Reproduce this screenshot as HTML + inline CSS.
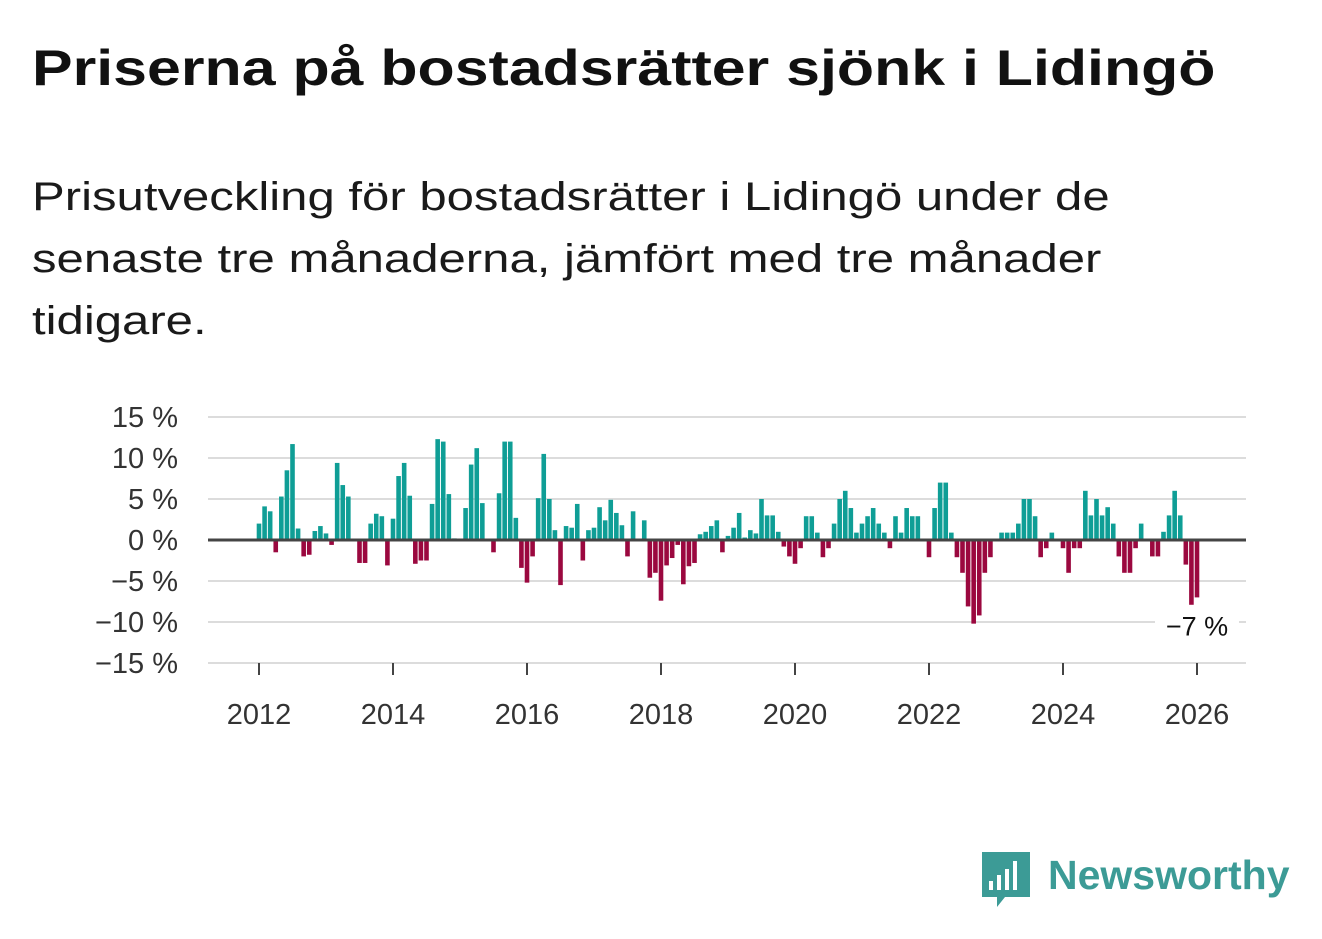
<!DOCTYPE html>
<html><head><meta charset="utf-8">
<style>
body{margin:0;background:#fff;width:1322px;height:939px;overflow:hidden;font-family:"Liberation Sans",sans-serif;color:#111}
h1{position:absolute;left:32px;top:39px;margin:0;font-size:50px;font-weight:bold;white-space:nowrap;transform:scaleX(1.217);transform-origin:0 0}
.sub{position:absolute;left:32px;top:166px;margin:0;font-size:40px;line-height:62px;color:#1a1a1a;white-space:nowrap;transform:scaleX(1.227);transform-origin:0 0}
svg{position:absolute;left:0;top:0}
</style></head><body>
<h1>Priserna på bostadsrätter sjönk i Lidingö</h1>
<p class="sub">Prisutveckling för bostadsrätter i Lidingö under de<br>senaste tre månaderna, jämfört med tre månader<br>tidigare.</p>
<svg id="chart" width="1322" height="939"></svg>
<script>
const values=[
2,4.1,3.5,-1.5,5.3,8.5,11.7,1.4,-2,-1.8,1.1,1.7,
0.8,-0.6,9.4,6.7,5.3,0,-2.8,-2.8,2,3.2,2.9,-3.1,
2.6,7.8,9.4,5.4,-2.9,-2.5,-2.5,4.4,12.3,12,5.6,0.2,
0,3.9,9.2,11.2,4.5,0,-1.5,5.7,12,12,2.7,-3.4,
-5.2,-2,5.1,10.5,5,1.2,-5.5,1.7,1.5,4.4,-2.5,1.2,
1.5,4,2.4,4.9,3.3,1.8,-2,3.5,0,2.4,-4.6,-4,
-7.4,-3.1,-2.2,-0.6,-5.4,-3.2,-2.8,0.7,1,1.7,2.4,-1.5,
0.5,1.5,3.3,0.3,1.2,0.8,5,3,3,1,-0.8,-2,
-2.9,-1,2.9,2.9,0.9,-2.1,-1,2,5,6,3.9,0.9,
2,2.9,3.9,2,0.9,-1,2.9,0.9,3.9,2.9,2.9,0,
-2.1,3.9,7,7,0.9,-2.1,-4,-8.1,-10.2,-9.2,-4,-2.1,
0,0.9,0.9,0.9,2,5,5,2.9,-2.1,-1,0.9,0,
-1,-4,-1,-1,6,3,5,3,4,2,-2,-4,
-4,-1,2,0,-2,-2,1,3,6,3,-3,-7.9,
-7];
const startYear=2012;
const yTicks=[15,10,5,0,-5,-10,-15];
const xTicks=[2012,2014,2016,2018,2020,2022,2024,2026];
const lastLabel="−7 %";
const svg=document.getElementById('chart');
const NS='http://www.w3.org/2000/svg';
const X0=259,PX_YEAR=67,Y0=540,PX_PCT=8.2,L=208,R=1246;
const xs=i=>X0+i*PX_YEAR/12;
const xy=yr=>X0+(yr-startYear)*PX_YEAR;
const ys=v=>Y0-v*PX_PCT;
function el(t,a){const e=document.createElementNS(NS,t);for(const k in a)e.setAttribute(k,a[k]);svg.appendChild(e);return e;}
yTicks.forEach(v=>{
 if(v!==0){const g=el('line',{x1:L,x2:R,y1:ys(v),y2:ys(v),stroke:'#dcdcdc','stroke-width':2});
 
 }
 const t=el('text',{x:178,y:ys(v)+10,'text-anchor':'end','font-size':29,fill:'#333','font-family':'Liberation Sans, sans-serif'});
 t.textContent=(v<0?'−'+(-v):v)+' %';
 
 
});
values.forEach((v,i)=>{
 const x=xs(i);const y=ys(Math.max(v,0));const h=Math.abs(v)*PX_PCT;
 const b=el('rect',{x:x-2.3,y:y,width:4.6,height:h,fill:v>=0?'#0f9e96':'#9b083f'});
 
 
});
const z=el('line',{x1:L,x2:R,y1:Y0,y2:Y0,stroke:'#444','stroke-width':3});


xTicks.forEach(yr=>{
 const x=xy(yr);
 const tk=el('line',{x1:x,x2:x,y1:663,y2:675,stroke:'#444','stroke-width':2});
 
 
 const t=el('text',{x:x,y:724,'text-anchor':'middle','font-size':29,fill:'#333','font-family':'Liberation Sans, sans-serif'});
 t.textContent=yr;
 
 
});
const li=values.length-1;
const bg=el('rect',{x:xs(li)-42,y:ys(values[li])+10,width:84,height:34,fill:'#fff'});


const lt=el('text',{x:xs(li),y:ys(values[li])+38,'text-anchor':'middle','font-size':27,fill:'#111','font-family':'Liberation Sans, sans-serif'});
lt.textContent=lastLabel;


</script>
<svg width="320" height="80" style="left:975px;top:845px">
<path d="M7 7 H55 V52 H30 L22 62 V52 H7 Z" fill="#3c9b96"/>
<rect x="14" y="36" width="4" height="9" fill="#fff"/><rect x="22" y="30" width="4" height="15" fill="#fff"/>
<rect x="30" y="24" width="4" height="21" fill="#fff"/><rect x="38" y="16" width="4" height="29" fill="#fff"/>
<text x="73" y="44" font-size="41" font-weight="bold" fill="#3c9b96" font-family="Liberation Sans, sans-serif">Newsworthy</text>
</svg>
</body></html>
